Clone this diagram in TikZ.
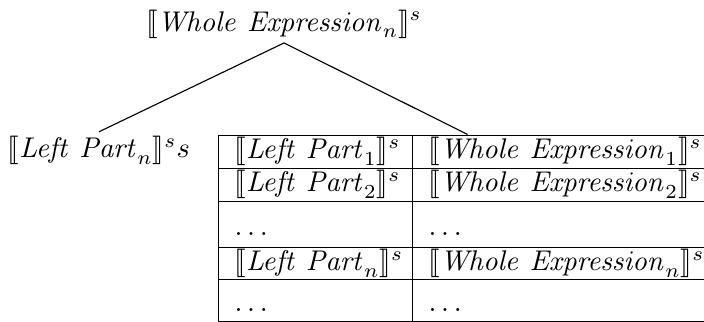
\documentclass[tikz,border=0pt]{standalone}
\usepackage{stmaryrd}
\usetikzlibrary{fit}
\def\pxu{0.3509}
\begin{document}
\begin{tikzpicture}[x=\pxu pt,y=-\pxu pt,
  cell/.style={draw, line width=0.4pt, inner sep=0pt, anchor=north west},
  txt/.style={inner sep=0pt, anchor=base west},
  lbl/.style={inner sep=1.5pt, anchor=base},
  edge/.style={line width=0.4pt}]
\useasboundingbox (0,0) rectangle (704,322);
\clip (0,0) rectangle (704,322);
% top and left labels
\node[lbl] (top) at (284,31) {$\llbracket \mathit{Whole\ Expression}_n\rrbracket^s$};
\node[lbl] (left) at (99,158) {$\llbracket \mathit{Left\ Part}_n\rrbracket^s s$};
% table cells
\foreach \r/\ya/\h in {1/135/33, 2/168/33, 3/201/46, 4/247/32, 5/279/42}{
  \node[cell, minimum width=194*\pxu pt, minimum height=\h*\pxu pt] (a\r) at (218,\ya) {};
  \node[cell, minimum width=304*\pxu pt, minimum height=\h*\pxu pt] (b\r) at (412,\ya) {};
}
\node[fit=(a1)(b5), inner sep=0pt] (table) {};
% cell texts
\node[txt] (ta1) at (234,159) {$\llbracket \mathit{Left\ Part}_1\rrbracket^s$};
\node[txt] (tb1) at (428,159) {$\llbracket \mathit{Whole\ Expression}_1\rrbracket^s$};
\node[txt] (ta2) at (234,192) {$\llbracket \mathit{Left\ Part}_2\rrbracket^s$};
\node[txt] (tb2) at (428,192) {$\llbracket \mathit{Whole\ Expression}_2\rrbracket^s$};
\node[txt] (ta3) at (234,236) {$\ldots$};
\node[txt] (tb3) at (428,236) {$\ldots$};
\node[txt] (ta4) at (234,271) {$\llbracket \mathit{Left\ Part}_n\rrbracket^s$};
\node[txt] (tb4) at (428,271) {$\llbracket \mathit{Whole\ Expression}_n\rrbracket^s$};
\node[txt] (ta5) at (234,312) {$\ldots$};
\node[txt] (tb5) at (428,312) {$\ldots$};
% tree edges
\draw[edge] (top.south) -- (left.north);
\draw[edge] (top.south) -- (table.north);
\end{tikzpicture}
\end{document}
